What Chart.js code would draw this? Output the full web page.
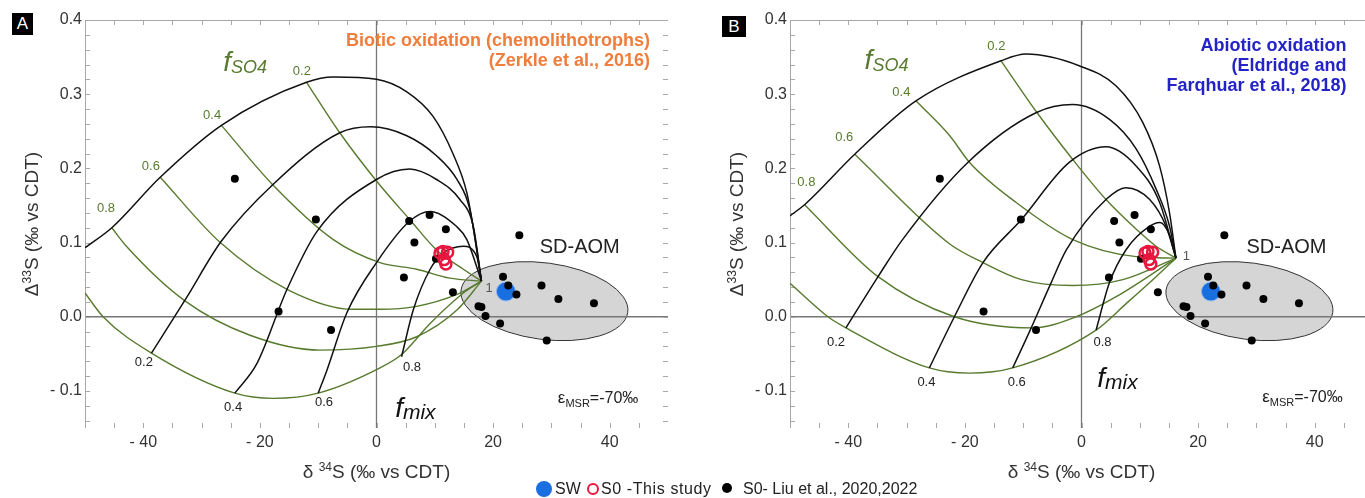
<!DOCTYPE html>
<html>
<head>
<meta charset="utf-8">
<script src="https://cdn.jsdelivr.net/npm/chart.js@4.4.1/dist/chart.umd.min.js"></script>
<style>
  html, body { margin: 0; padding: 0; background: #fff; width: 1365px; height: 498px; overflow: hidden; position: relative; font-family: "Liberation Sans", Arial, sans-serif; }
  canvas { position: absolute; top: 0; }
  #chartA { left: 0; }
  #chartB { left: 705px; }
  .tag { position: absolute; background: #000; color: #fff; font-size: 17px; text-align: center; }
  .leg { position: absolute; top: 480px; font-size: 16px; color: #222; line-height: 18px; white-space: nowrap; }
  .mk { position: absolute; border-radius: 50%; box-sizing: border-box; }
</style>
</head>
<body>
<canvas id="chartA" width="690" height="498"></canvas>
<canvas id="chartB" width="690" height="498"></canvas>
<div class="tag" style="left:12px;top:13px;width:21px;height:22px;line-height:22px">A</div>
<div class="tag" style="left:722px;top:16px;width:24px;height:21px;line-height:21px">B</div>

<div class="mk" style="left:536px;top:481px;width:16px;height:16px;background:#1a6fe0"></div>
<div class="leg" style="left:555px">SW</div>
<div class="mk" style="left:587px;top:483px;width:12px;height:12px;border:2.5px solid #e8173f"></div>
<div class="leg" style="left:601px;letter-spacing:0.6px">S0 -This study</div>
<div class="mk" style="left:722px;top:483px;width:10px;height:10px;background:#000"></div>
<div class="leg" style="left:743px">S0- Liu et al., 2020,2022</div>

<script>
// axis ticks
const xTicks = [-40, -20, 0, 20, 40];
const xTickLabels = ['- 40', '- 20', '0', '20', '40'];
const yTicks = [-0.1, 0, 0.1, 0.2, 0.3, 0.4];
const yTickLabels = ['- 0.1', '0.0', '0.1', '0.2', '0.3', '0.4'];

// samples (d34S, D33S)
const liuD34 = [-24.3, -10.4, -16.8, -7.8, 5.6, 9.1, 11.9, 6.5, 4.7, 10.2, 13.1, 24.5, 21.7, 22.6, 24.0, 28.3, 31.2, 37.3, 17.5, 18.0, 18.7, 21.2, 29.2];
const liuD33 = [0.186, 0.131, 0.007, -0.018, 0.129, 0.137, 0.118, 0.100, 0.053, 0.078, 0.033, 0.110, 0.054, 0.042, 0.030, 0.042, 0.024, 0.018, 0.014, 0.013, 0.001, -0.009, -0.032];
const studyD34 = [10.9, 12.2, 11.6, 11.9, 11.4];
const studyD33 = [0.086, 0.087, 0.077, 0.071, 0.088];
const swD34 = [22.2];
const swD33 = [0.034];

// SD-AOM field (centre, end of long axis, end of short axis)
const aomCenter = [28.8, 0.021];
const aomMajorEnd = [43.1, 0.006];
const aomMinorEnd = [29.8, 0.072];

// curve labels
const levelLabels = ['0.2', '0.4', '0.6', '0.8'];

// panel A - biotic oxidation, f_mix curves (black)
const bioMix0 = [[-50, 0.093], [-45.4, 0.12], [-37.1, 0.188], [-26.6, 0.258], [-12, 0.316], [-7.4, 0.323], [0, 0.32], [5.2, 0.303], [9.7, 0.27], [13.1, 0.22], [15.5, 0.167], [16.6, 0.12], [18, 0.048]];
const bioMix02 = [[-38.6, -0.049], [-32.8, 0.023], [-26.6, 0.102], [-17.8, 0.178], [-6.3, 0.248], [-1, 0.256], [5.2, 0.244], [10.3, 0.217], [13.8, 0.185], [16, 0.145], [18, 0.048]];
const bioMix04 = [[-24.3, -0.103], [-20.5, -0.063], [-15.4, 0.036], [-10.2, 0.115], [0, 0.185], [5.7, 0.199], [10.3, 0.185], [14.3, 0.158], [16.6, 0.122], [18, 0.048]];
const bioMix06 = [[-10, -0.103], [-8.5, -0.072], [-5.1, 0.005], [0, 0.073], [5.7, 0.129], [9.2, 0.142], [13.7, 0.122], [15.5, 0.104], [18, 0.048]];
const bioMix08 = [[4.3, -0.054], [6.3, 0.009], [9.2, 0.064], [11.5, 0.086], [14.9, 0.095], [17.2, 0.081], [18, 0.048]];
// panel A - f_SO4 curves (green)
const bioSo402 = [[-12, 0.316], [-6.3, 0.248], [0, 0.183], [5.7, 0.131], [10.3, 0.09], [14.9, 0.064], [18, 0.048]];
const bioSo404 = [[-26.6, 0.258], [-17.8, 0.178], [-7.4, 0.104], [0.6, 0.073], [6.9, 0.064], [12.6, 0.052], [18, 0.048]];
const bioSo406 = [[-37.1, 0.188], [-26.8, 0.1], [-15.1, 0.036], [-4, 0.01], [0.6, 0.01], [6.9, 0.014], [13.8, 0.03], [18, 0.048]];
const bioSo408 = [[-45.4, 0.12], [-42.9, 0.095], [-32.8, 0.021], [-21.7, -0.025], [-9.7, -0.045], [0, -0.04], [6.9, -0.027], [13.8, 0.009], [18, 0.048]];
const bioSo41 = [[-50, 0.032], [-46.9, 0.0], [-38.6, -0.049], [-24.3, -0.103], [-17.7, -0.11], [-10, -0.103], [0.6, -0.069], [4.3, -0.051], [9.2, -0.009], [14.9, 0.032], [18, 0.048]];

// panel B - abiotic oxidation
const abioMix0 = [[-50, 0.136], [-47.5, 0.151], [-38.9, 0.219], [-28.4, 0.291], [-13.8, 0.345], [-9.5, 0.354], [-0.3, 0.338], [5.95, 0.311], [10.5, 0.262], [13.4, 0.203], [15.1, 0.14], [16.2, 0.079]];
const abioMix02 = [[-40.4, -0.015], [-34.9, 0.054], [-30.7, 0.104], [-19.5, 0.208], [-7.8, 0.275], [-1.5, 0.286], [4.8, 0.266], [9.4, 0.226], [12.8, 0.172], [15.1, 0.122], [16.2, 0.079]];
const abioMix04 = [[-26.1, -0.069], [-21.8, 0.0], [-16.9, 0.073], [-10.3, 0.131], [-2.1, 0.208], [4.2, 0.229], [9.4, 0.203], [13.4, 0.154], [16.2, 0.079]];
const abioMix06 = [[-11.8, -0.069], [-8.8, -0.018], [-5.2, 0.046], [-2.6, 0.09], [4.2, 0.158], [7.6, 0.174], [11.7, 0.158], [14.5, 0.122], [16.2, 0.079]];
const abioMix08 = [[2.5, -0.018], [4.8, 0.046], [7.7, 0.091], [11.7, 0.122], [13.4, 0.127], [15.4, 0.104], [16.2, 0.079]];
const abioSo402 = [[-13.8, 0.345], [-7.8, 0.277], [-1.5, 0.212], [4.2, 0.158], [9.4, 0.118], [12.8, 0.095], [16.2, 0.079]];
const abioSo404 = [[-28.4, 0.291], [-22.6, 0.244], [-19.2, 0.208], [-11.2, 0.154], [-1.5, 0.104], [9.4, 0.081], [16.2, 0.079]];
const abioSo406 = [[-38.9, 0.219], [-22.6, 0.098], [-16.9, 0.073], [-10.3, 0.05], [-1.5, 0.042], [7.1, 0.05], [16.2, 0.079]];
const abioSo408 = [[-47.5, 0.151], [-34.9, 0.054], [-21.8, 0.0], [-8.4, -0.015], [-0.9, 0.0], [5.95, 0.027], [16.2, 0.079]];
const abioSo41 = [[-50, 0.045], [-43.5, 0.0], [-40.4, -0.015], [-26.1, -0.069], [-19.2, -0.076], [-11.8, -0.069], [2.5, -0.018], [7.7, 0.018], [12.8, 0.054], [16.2, 0.079]];

const FF = '"Liberation Sans", Arial, sans-serif';
const GREEN = '#587a2e';
const TXT = '#333';

function pts(xs, ys) {
    return xs.map((v, i) => ({ x: v, y: ys[i] }));
}

function curve(pairs, color, width) {
    return {
        data: pairs.map(p => ({ x: p[0], y: p[1] })),
        showLine: true,
        borderColor: color,
        borderWidth: width,
        pointRadius: 0,
        cubicInterpolationMode: 'monotone',
        fill: false
    };
}

// text with sub/superscripts, drawn as several runs
function drawParts(ctx, parts, x, y, align, base) {
    let w = 0;
    parts.forEach(p => { ctx.font = p[1]; p.w = ctx.measureText(p[0]).width; w += p.w; });
    let cx = align == 'right' ? x - w : (align == 'center' ? x - w / 2 : x);
    ctx.textAlign = 'left';
    ctx.textBaseline = base || 'alphabetic';
    parts.forEach(p => {
        ctx.font = p[1];
        ctx.fillStyle = p[2];
        ctx.fillText(p[0], cx, y + (p[3] || 0));
        cx += p.w;
    });
}

function levelNotes(pos, color) {
    return pos.map((p, i) => ({ x: p[0], y: p[1], align: 'center', base: 'middle', parts: [[levelLabels[i], '13px ' + FF, color]] }));
}

const panelNotes = {
    chartA: [
        { x: -26.3, y: 0.331, align: 'left', parts: [['f', 'italic 28px ' + FF, GREEN], ['SO4', 'italic 18px ' + FF, GREEN, 2]] },
        ...levelNotes([[-12.8, 0.331], [-28.2, 0.272], [-38.7, 0.203], [-46.4, 0.146]], GREEN),
        ...levelNotes([[-39.9, -0.062], [-24.6, -0.122], [-9.0, -0.116], [6.1, -0.068]], '#222'),
        { x: 19.3, y: 0.038, align: 'center', base: 'middle', parts: [['1', '13px ' + FF, '#555']] },
        { x: 3.2, y: -0.135, align: 'left', parts: [['f', 'italic 28px ' + FF, '#111'], ['mix', 'italic 21px ' + FF, '#111', 2]] },
        { x: 28.0, y: 0.0865, align: 'left', parts: [['SD-AOM', '20px ' + FF, '#222']] },
        { x: 31.1, y: -0.116, align: 'left', parts: [['\u03b5', '17px ' + FF, '#222'], ['MSR', '11px ' + FF, '#222', 4], ['=-70\u2030', '16px ' + FF, '#222']] },
        { x: 46.9, y: 0.3653, align: 'right', parts: [['Biotic oxidation (chemolithotrophs)', 'bold 18px ' + FF, '#ef7d3c']] },
        { x: 46.9, y: 0.3378, align: 'right', parts: [['(Zerkle et al., 2016)', 'bold 18px ' + FF, '#ef7d3c']] }
    ],
    chartB: [
        { x: -37.2, y: 0.334, align: 'left', parts: [['f', 'italic 28px ' + FF, GREEN], ['SO4', 'italic 18px ' + FF, GREEN, 2]] },
        ...levelNotes([[-14.6, 0.364], [-30.9, 0.303], [-40.7, 0.242], [-47.2, 0.181]], GREEN),
        ...levelNotes([[-42.1, -0.035], [-26.6, -0.089], [-11.1, -0.089], [3.6, -0.035]], '#222'),
        { x: 18.0, y: 0.081, align: 'center', base: 'middle', parts: [['1', '13px ' + FF, '#555']] },
        { x: 2.7, y: -0.095, align: 'left', parts: [['f', 'italic 28px ' + FF, '#111'], ['mix', 'italic 21px ' + FF, '#111', 2]] },
        { x: 28.3, y: 0.0865, align: 'left', parts: [['SD-AOM', '20px ' + FF, '#222']] },
        { x: 31.0, y: -0.115, align: 'left', parts: [['\u03b5', '17px ' + FF, '#222'], ['MSR', '11px ' + FF, '#222', 4], ['=-70\u2030', '16px ' + FF, '#222']] },
        { x: 45.45, y: 0.3585, align: 'right', parts: [['Abiotic oxidation', 'bold 18px ' + FF, '#2323c8']] },
        { x: 45.45, y: 0.3315, align: 'right', parts: [['(Eldridge and', 'bold 18px ' + FF, '#2323c8']] },
        { x: 45.45, y: 0.3045, align: 'right', parts: [['Farqhuar et al., 2018)', 'bold 18px ' + FF, '#2323c8']] }
    ]
};

const decor = {
    id: 'decor',
    beforeDatasetsDraw(chart) {
        const ctx = chart.ctx, a = chart.chartArea, xs = chart.scales.x, ys = chart.scales.y;
        ctx.save();
        ctx.beginPath();
        ctx.rect(a.left, a.top, a.right - a.left, a.bottom - a.top);
        ctx.clip();

        // SD-AOM field
        const c = [xs.getPixelForValue(aomCenter[0]), ys.getPixelForValue(aomCenter[1])];
        const m = [xs.getPixelForValue(aomMajorEnd[0]), ys.getPixelForValue(aomMajorEnd[1])];
        const n = [xs.getPixelForValue(aomMinorEnd[0]), ys.getPixelForValue(aomMinorEnd[1])];
        ctx.beginPath();
        ctx.ellipse(c[0], c[1], Math.hypot(m[0] - c[0], m[1] - c[1]), Math.hypot(n[0] - c[0], n[1] - c[1]), Math.atan2(m[1] - c[1], m[0] - c[0]), 0, 2 * Math.PI);
        ctx.fillStyle = '#d5d5d5';
        ctx.fill();
        ctx.strokeStyle = '#333';
        ctx.lineWidth = 1;
        ctx.stroke();

        // zero lines
        ctx.strokeStyle = '#777';
        ctx.lineWidth = 1.3;
        ctx.beginPath();
        const x0 = xs.getPixelForValue(0), y0 = ys.getPixelForValue(0);
        ctx.moveTo(x0, a.top); ctx.lineTo(x0, a.bottom);
        ctx.moveTo(a.left, y0); ctx.lineTo(a.right, y0);
        ctx.stroke();

        // frame with inward minor ticks
        ctx.strokeStyle = '#a8a8a8';
        ctx.lineWidth = 1;
        ctx.strokeRect(a.left + 0.5, a.top + 0.5, a.right - a.left, a.bottom - a.top);
        ctx.beginPath();
        for (let k = -10; k <= 10; k++) {
            const px = Math.round(xs.getPixelForValue(k * 5)) + 0.5;
            ctx.moveTo(px, a.bottom); ctx.lineTo(px, a.bottom - 5);
            ctx.moveTo(px, a.top); ctx.lineTo(px, a.top + 5);
        }
        for (let k = -7; k <= 20; k++) {
            const py = Math.round(ys.getPixelForValue(k * 0.02)) + 0.5;
            ctx.moveTo(a.left, py); ctx.lineTo(a.left + 5, py);
            ctx.moveTo(a.right, py); ctx.lineTo(a.right - 5, py);
        }
        ctx.stroke();
        ctx.restore();
    },
    afterDatasetsDraw(chart) {
        const ctx = chart.ctx, a = chart.chartArea, xs = chart.scales.x, ys = chart.scales.y;
        ctx.save();
        panelNotes[chart.canvas.id].forEach(t => {
            drawParts(ctx, t.parts, xs.getPixelForValue(t.x), ys.getPixelForValue(t.y), t.align, t.base);
        });

        // axis titles
        const cx = (a.left + a.right) / 2;
        drawParts(ctx, [['\u03b4 ', '19px ' + FF, TXT], ['34', '12px ' + FF, TXT, -7], ['S (\u2030 vs CDT)', '19px ' + FF, TXT]], cx, a.bottom + 50, 'center');
        ctx.translate(a.left - 54, (a.top + a.bottom) / 2);
        ctx.rotate(-Math.PI / 2);
        drawParts(ctx, [['\u0394', '19px ' + FF, TXT], ['33', '12px ' + FF, TXT, -7], ['S (\u2030 vs CDT)', '19px ' + FF, TXT]], 0, 7, 'center');
        ctx.restore();
    }
};

function createPanel(id, mixCurves, so4Curves) {
    const ctx = document.getElementById(id).getContext('2d');
    let datasets = [
        { data: pts(studyD34, studyD33), pointRadius: 5.5, backgroundColor: 'rgba(0,0,0,0)', borderColor: '#e8173f', borderWidth: 2.5 },
        { data: pts(liuD34, liuD33), pointRadius: 4, backgroundColor: '#000', borderWidth: 0 },
        { data: pts(swD34, swD33), pointRadius: 9.5, backgroundColor: '#1a6fe0', borderColor: '#8fb8f0', borderWidth: 1 }
    ];
    mixCurves.forEach(c => datasets.push(curve(c, '#111', 1.5)));
    so4Curves.forEach(c => datasets.push(curve(c, GREEN, 1.4)));

    return new Chart(ctx, {
        type: 'scatter',
        data: { datasets: datasets },
        options: {
            responsive: false,
            animation: false,
            events: [],
            layout: { padding: { top: 20, right: 22, left: 0, bottom: 0 } },
            plugins: { legend: { display: false }, tooltip: { enabled: false } },
            scales: {
                x: {
                    type: 'linear', min: -50, max: 50,
                    grid: { display: false, drawTicks: false },
                    border: { display: false },
                    afterBuildTicks: s => { s.ticks = xTicks.map(v => ({ value: v })); },
                    afterFit: s => { s.height = 70; },
                    ticks: { padding: 5, color: TXT, font: { size: 16, family: FF }, callback: (v, i) => xTickLabels[i] }
                },
                y: {
                    type: 'linear', min: -0.15, max: 0.4,
                    grid: { display: false, drawTicks: false },
                    border: { display: false },
                    afterBuildTicks: s => { s.ticks = yTicks.map(v => ({ value: v })); },
                    afterFit: s => { s.width = 85; },
                    ticks: { padding: 3, color: TXT, font: { size: 16, family: FF }, callback: (v, i) => yTickLabels[i] }
                }
            }
        },
        plugins: [decor]
    });
}

createPanel('chartA', [bioMix0, bioMix02, bioMix04, bioMix06, bioMix08], [bioSo402, bioSo404, bioSo406, bioSo408, bioSo41]);
createPanel('chartB', [abioMix0, abioMix02, abioMix04, abioMix06, abioMix08], [abioSo402, abioSo404, abioSo406, abioSo408, abioSo41]);
</script>
</body>
</html>
